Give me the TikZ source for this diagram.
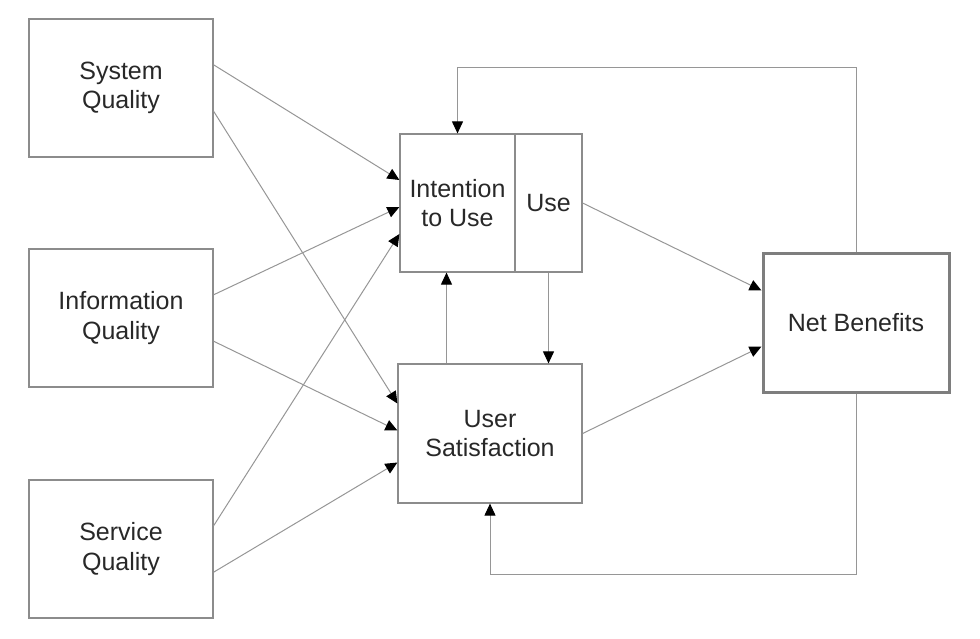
\documentclass[tikz,border=0pt]{standalone}
\usepackage{fontspec}
\setmainfont{Liberation Sans}
\usetikzlibrary{arrows.meta, positioning, calc}
\definecolor{boxgray}{RGB}{140,140,140}
\definecolor{linegray}{RGB}{150,150,150}
\definecolor{textgray}{RGB}{40,40,40}

\begin{document}
\begin{tikzpicture}[x=1pt, y=-1pt,
    box/.style={draw=boxgray, line width=1.2pt, rectangle, minimum width=184pt, minimum height=138pt,
      align=center, inner sep=0pt, text=textgray, font=\fontsize{25}{29.5}\selectfont},
    arr/.style={draw=linegray, line width=1pt, -{Triangle[length=12pt, width=11pt, color=black]}}]
    \useasboundingbox (0,0) rectangle (980,638);
    % Quality boxes on the left
    \node[box] (sq) at (121,88) {System\\Quality};
    \node[box] (iq) at (121,318) {Information\\Quality};
    \node[box] (svq) at (121,549) {Service\\Quality};
    % Use and satisfaction in the middle
    \node[box, minimum width=115pt] (intent) at (457.5,203) {Intention\\to Use};
    \node[box, minimum width=67pt] (use) at (548.5,203) {Use};
    \node[box, minimum height=139pt] (us) at (490,433.5) {User\\Satisfaction};
    % Net benefits on the right
    \node[box, minimum width=186pt, minimum height=139pt, line width=3pt, draw=boxgray!90!black] (nb) at (856,322.5) {Net Benefits};
    \coordinate (topy) at (0,67);
    \coordinate (boty) at (0,574);
    % Quality links
    \draw[arr] ($(sq.north east)!1/3!(sq.south east)$) -- ([yshift=23pt]intent.west);
    \draw[arr] ($(sq.north east)!2/3!(sq.south east)$) -- ([yshift=30pt]us.west);
    \draw[arr] ($(iq.north east)!1/3!(iq.south east)$) -- ([yshift=-4pt]intent.west);
    \draw[arr] ($(iq.north east)!2/3!(iq.south east)$) -- ([yshift=3pt]us.west);
    \draw[arr] ($(svq.north east)!1/3!(svq.south east)$) -- ([yshift=-31pt]intent.west);
    \draw[arr] ($(svq.north east)!2/3!(svq.south east)$) -- ([yshift=-29pt]us.west);
    % Between use and satisfaction
    \draw[arr] ([xshift=-11pt]intent.south |- us.north) -- ([xshift=-11pt]intent.south);
    \draw[arr] (use.south) -- (use.south |- us.north);
    % Towards net benefits
    \draw[arr] (use.east) -- ([yshift=32pt]nb.west);
    \draw[arr] (us.east) -- ([yshift=-24pt]nb.west);
    % Feedback loops
    \draw[arr] (nb.north) -- (nb.north |- topy) -| (intent.north);
    \draw[arr] (nb.south) -- (nb.south |- boty) -| (us.south);
\end{tikzpicture}
\end{document}
